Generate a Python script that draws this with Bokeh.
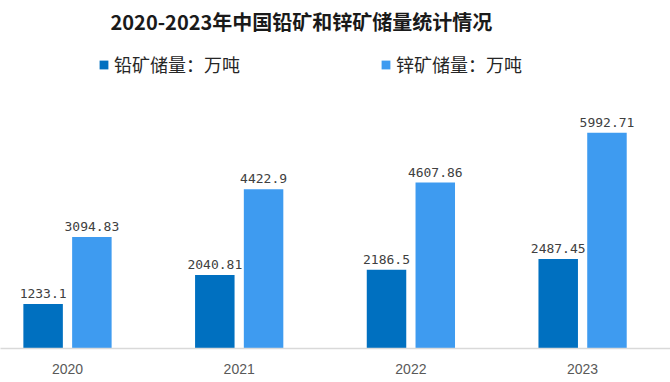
from bokeh.plotting import figure
from bokeh.models import ColumnDataSource, FixedTicker, Label, Legend, LegendItem, Range1d
from bokeh.core.properties import value
from bokeh.embed import file_html
from bokeh.resources import INLINE

years = ["2020", "2021", "2022", "2023"]
lead = [1233.1, 2040.81, 2186.5, 2487.45]
zinc = [3094.83, 4422.9, 4607.86, 5992.71]
title_text = "2020-2023年中国铅矿和锌矿储量统计情况"
lead_name = "铅矿储量：万吨"
zinc_name = "锌矿储量：万吨"

DARK = "#0070C0"
LIGHT = "#3E9BF0"
DODGE = 0.142
BAR_W = 0.23

idx = list(range(len(years)))
src_lead = ColumnDataSource(dict(x=[i - DODGE for i in idx], y=lead, t=[str(v) for v in lead]))
src_zinc = ColumnDataSource(dict(x=[i + DODGE for i in idx], y=zinc, t=[str(v) for v in zinc]))

p = figure(width=670, height=378, output_backend="svg", toolbar_location=None,
           x_range=Range1d(-0.3902, 3.512), y_range=Range1d(0, 9667),
           min_border_left=0, min_border_right=0, min_border_top=0, min_border_bottom=30,
           y_axis_location=None)
p.outline_line_color = None
p.xgrid.visible = False
p.ygrid.visible = False
p.background_fill_color = "white"
p.border_fill_color = "white"

r1 = p.vbar(x="x", top="y", width=BAR_W, source=src_lead, fill_color=DARK, line_color=None)
r2 = p.vbar(x="x", top="y", width=BAR_W, source=src_zinc, fill_color=LIGHT, line_color=None)

for src in (src_lead, src_zinc):
    p.text(x="x", y="y", text="t", source=src, text_align="center", text_baseline="bottom",
           y_offset=-6, text_font=value("DejaVu Sans Mono"), text_font_size="13px",
           text_color="#404040")

ax = p.xaxis[0]
ax.ticker = FixedTicker(ticks=idx)
ax.major_label_overrides = {i: y for i, y in zip(idx, years)}
ax.major_tick_line_color = None
ax.minor_tick_line_color = None
ax.axis_line_color = "#D9D9D9"
ax.axis_line_width = 1.5
ax.major_label_text_font = "Liberation Sans"
ax.major_label_text_font_size = "14px"
ax.major_label_text_color = "#595959"
ax.major_label_standoff = 9

p.add_layout(Label(x=110, y=327, x_units="screen", y_units="screen", text=title_text,
                   text_font="Noto Sans CJK SC", text_font_style="bold", text_font_size="20px",
                   text_color="#1A1A1A", text_align="left", text_baseline="middle"))

legend = Legend(items=[LegendItem(label=lead_name, renderers=[r1]),
                       LegendItem(label=zinc_name, renderers=[r2])],
                orientation="horizontal", location=(98, 271),
                padding=0, margin=0, spacing=140, label_standoff=5,
                glyph_width=11, glyph_height=11, label_height=20,
                label_text_font="Noto Sans CJK SC", label_text_font_size="18px",
                label_text_color="#262626", border_line_color=None,
                background_fill_alpha=0)
p.add_layout(legend, "center")

open("out.html", "w").write(file_html(p, INLINE))
